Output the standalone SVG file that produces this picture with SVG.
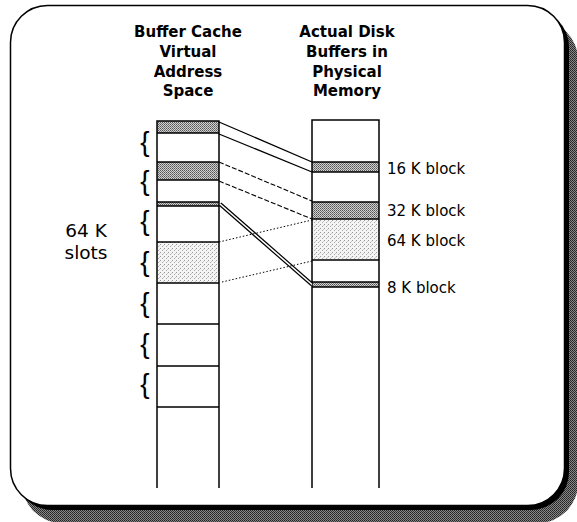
<svg xmlns="http://www.w3.org/2000/svg" width="577" height="522" viewBox="0 0 577 522">
<style>
.title{font-family:"DejaVu Sans","Liberation Sans",sans-serif;font-weight:bold;font-size:15px;text-anchor:middle;fill:#000}
.lbl{font-family:"DejaVu Sans","Liberation Sans",sans-serif;font-size:15px;fill:#000}
.big{font-family:"DejaVu Sans","Liberation Sans",sans-serif;font-size:18.5px;text-anchor:middle;fill:#000}
.brace{font-family:"Liberation Sans",sans-serif;font-size:28px;text-anchor:middle;fill:#000}
.col{fill:none;stroke:#000;stroke-width:1.5}
.row{stroke:#000;stroke-width:1.5}
.solid{stroke:#000;stroke-width:1.3;fill:none}
.dash{stroke:#000;stroke-width:1.1;fill:none;stroke-dasharray:5 2}
.dot{stroke:#000;stroke-width:1;fill:none;stroke-dasharray:1.5 2}
</style>
<defs>
<pattern id="dark" width="2" height="2" patternUnits="userSpaceOnUse">
<rect width="2" height="2" fill="#d0d0d0"/>
<rect width="1" height="1" fill="#555"/>
<rect x="1" y="1" width="1" height="1" fill="#777"/>
</pattern>
<pattern id="light" width="4" height="4" patternUnits="userSpaceOnUse">
<rect width="4" height="4" fill="#f4f4f4"/>
<rect width="1" height="1" fill="#999"/>
<rect x="2" y="2" width="1" height="1" fill="#aaa"/>
<rect x="3" y="1" width="1" height="1" fill="#ccc"/>
</pattern>
<pattern id="shadow" width="2" height="2" patternUnits="userSpaceOnUse">
<rect width="2" height="2" fill="#888"/>
<rect width="1" height="1" fill="#222"/>
<rect x="1" y="1" width="1" height="1" fill="#333"/>
</pattern>
</defs>
<rect width="577" height="522" fill="#fff"/>
<g id="frame">
<rect x="22" y="20" width="556" height="503" rx="40" fill="url(#shadow)"/>
<rect x="14" y="9" width="555" height="501" rx="38" fill="#000"/>
<rect x="10.5" y="5.5" width="554" height="500" rx="37" fill="#fff" stroke="#000" stroke-width="1.5"/>
</g>
<g id="title-left">
<text class="title" x="188" y="37">Buffer Cache</text>
<text class="title" x="188" y="57">Virtual</text>
<text class="title" x="188" y="77">Address</text>
<text class="title" x="188" y="96">Space</text>
</g>
<g id="title-right">
<text class="title" x="347" y="37">Actual Disk</text>
<text class="title" x="347" y="57">Buffers in</text>
<text class="title" x="347" y="77">Physical</text>
<text class="title" x="347" y="96">Memory</text>
</g>
<g id="virtual-column">
<rect x="157" y="121" width="62" height="12" fill="url(#dark)"/>
<rect x="157" y="162" width="62" height="18" fill="url(#dark)"/>
<rect x="157" y="202" width="62" height="4" fill="url(#dark)"/>
<rect x="157" y="242" width="62" height="41" fill="url(#light)"/>
<path class="col" d="M157,488 V121 H219 V488"/>
<path class="row" d="M157,133H219 M157,162H219 M157,180H219 M157,202H219 M157,206H219 M157,242H219 M157,283H219 M157,324H219 M157,366H219 M157,407H219"/>
</g>
<g id="braces">
<text class="brace" x="145" y="151">{</text>
<text class="brace" x="145" y="190">{</text>
<text class="brace" x="145" y="230">{</text>
<text class="brace" x="145" y="271">{</text>
<text class="brace" x="145" y="312">{</text>
<text class="brace" x="145" y="353">{</text>
<text class="brace" x="145" y="393">{</text>
</g>
<g id="slots-label">
<text class="big" x="86" y="237">64 K</text>
<text class="big" x="86" y="259">slots</text>
</g>
<g id="physical-column">
<rect x="312" y="162" width="67" height="10" fill="url(#dark)"/>
<rect x="312" y="202" width="67" height="17" fill="url(#dark)"/>
<rect x="312" y="219" width="67" height="41" fill="url(#light)"/>
<rect x="312" y="282" width="67" height="5" fill="url(#dark)"/>
<path class="col" d="M312,488 V120 H379 V488"/>
<path class="row" d="M312,162H379 M312,172H379 M312,202H379 M312,219H379 M312,260H379 M312,282H379 M312,287H379"/>
</g>
<g id="block-labels">
<text class="lbl" x="387" y="174">16 K block</text>
<text class="lbl" x="387" y="216">32 K block</text>
<text class="lbl" x="387" y="246">64 K block</text>
<text class="lbl" x="387" y="293">8 K block</text>
</g>
<g id="connectors">
<path class="solid" d="M219,122 L312,162 M219,134 L312,172"/>
<path class="dash" d="M219,162 L312,201 M219,181 L312,219"/>
<path d="M220,204 L312,284.5" stroke="#000" stroke-width="4" fill="none"/>
<path d="M220,204 L312,284.5" stroke="#fff" stroke-width="1.6" fill="none"/>
<path class="dot" d="M219,242 L312,220 M222,282 L312,261"/>
</g>
</svg>
